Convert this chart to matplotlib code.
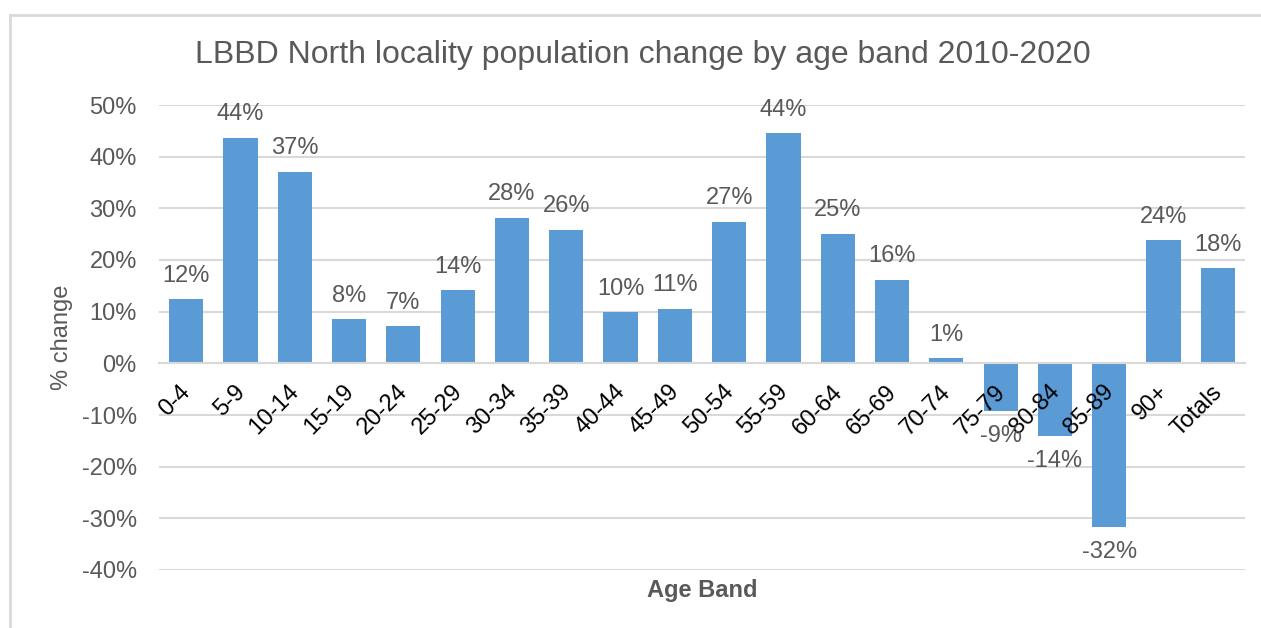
import matplotlib.pyplot as plt
from matplotlib.lines import Line2D
from matplotlib.transforms import ScaledTranslation

plt.rcParams["font.family"] = ["Liberation Sans", "DejaVu Sans"]

age_bands = ["0-4", "5-9", "10-14", "15-19", "20-24", "25-29", "30-34", "35-39",
             "40-44", "45-49", "50-54", "55-59", "60-64", "65-69", "70-74",
             "75-79", "80-84", "85-89", "90+", "Totals"]
pct_change = [12.4, 43.7, 37.1, 8.5, 7.2, 14.1, 28.2, 25.9, 9.9, 10.6,
              27.4, 44.5, 25.1, 16.2, 1.0, -9.2, -14.1, -31.7, 23.8, 18.4]
y_ticks = [-40, -30, -20, -10, 0, 10, 20, 30, 40, 50]

W, H = 1261, 628
fig = plt.figure(figsize=(W / 100, H / 100), dpi=100)
ax = fig.add_axes([159 / W, 1 - 570 / H, (1245 - 159) / W, (570 - 105) / H])

text_grey = "#595959"
grid_grey = "#D9D9D9"
bar_blue = "#5B9BD5"
fs = 17

# gridlines drawn by hand so the bars sit above them but below tick labels
for v in y_ticks:
    ax.axhline(v, color=grid_grey, linewidth=1.5, zorder=0)

x = list(range(len(age_bands)))
ax.bar(x, pct_change, width=0.63, color=bar_blue, zorder=1)
ax.set_xlim(-0.5, len(age_bands) - 0.5)
ax.set_ylim(-40, 50)

ax.set_yticks(y_ticks)
ax.set_yticklabels([f"{v}%" for v in y_ticks])
ax.tick_params(axis="y", length=0, pad=16, labelsize=fs, labelcolor=text_grey)

for side in ["top", "right", "left"]:
    ax.spines[side].set_visible(False)
ax.spines["bottom"].set_position(("data", 0))
ax.spines["bottom"].set_color(grid_grey)
ax.spines["bottom"].set_linewidth(1.5)

ax.set_xticks(x)
ax.set_xticklabels(age_bands, rotation=45, ha="right", va="top")
ax.tick_params(axis="x", length=0, pad=9, labelsize=fs, labelcolor="black")
shift = ScaledTranslation(9 / 100, -5 / 100, fig.dpi_scale_trans)
for lbl in ax.get_xticklabels():
    lbl.set_transform(lbl.get_transform() + shift)

for xi, v in zip(x, pct_change):
    if v >= 0:
        ax.annotate(f"{round(v):.0f}%", (xi, v), xytext=(0, 9), textcoords="offset points",
                    ha="center", va="bottom", fontsize=fs, color=text_grey)
    else:
        ax.annotate(f"{round(v):.0f}%", (xi, v), xytext=(0, -10), textcoords="offset points",
                    ha="center", va="top", fontsize=fs, color=text_grey)

fig.text(643 / W, 1 - 55 / H, "LBBD North locality population change by age band 2010-2020",
         ha="center", va="center", fontsize=23, color=text_grey)
fig.text(62 / W, 1 - 337 / H, "% change", rotation=90, ha="center", va="center",
         fontsize=fs, color=text_grey)
fig.text(702 / W, 1 - 590 / H, "Age Band", ha="center", va="center",
         fontsize=fs, fontweight="bold", color=text_grey)

# chart frame
fig.add_artist(Line2D([10 / W, 1.0], [1 - 15 / H, 1 - 15 / H], color=grid_grey,
                      linewidth=2, transform=fig.transFigure))
fig.add_artist(Line2D([10 / W, 10 / W], [0.0, 1 - 15 / H], color=grid_grey,
                      linewidth=2, transform=fig.transFigure))

fig.savefig("out.png", dpi=100, facecolor="white")
